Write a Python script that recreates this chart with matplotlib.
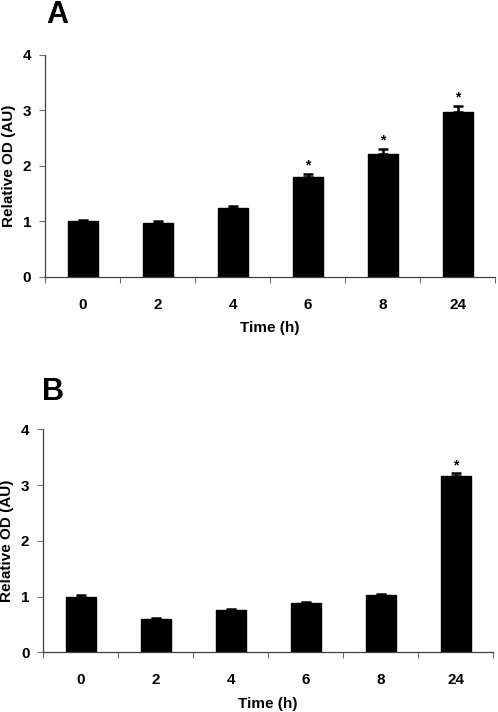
import numpy as np
import matplotlib
matplotlib.use("Agg")
import matplotlib.pyplot as plt

plt.rcParams['font.family'] = ['Liberation Sans', 'DejaVu Sans']
plt.rcParams['font.weight'] = 'bold'

times = ["0", "2", "4", "6", "8", "24"]

# panel A
values_a = [1.00, 0.97, 1.24, 1.80, 2.22, 2.97]
errors_a = [0.03, 0.03, 0.04, 0.06, 0.09, 0.11]
signif_a = [False, False, False, True, True, True]

# panel B
values_b = [1.00, 0.60, 0.75, 0.88, 1.02, 3.17]
errors_b = [0.02, 0.02, 0.02, 0.02, 0.02, 0.04]
signif_b = [False, False, False, False, False, True]

fig = plt.figure(figsize=(4.98, 7.12), dpi=100)


def draw_panel(rect, values, errors, signif, letter, letter_pos):
    ax = fig.add_axes(rect)
    x = np.arange(len(values))
    ax.bar(x, values, width=0.4, color="black", edgecolor="black")
    ax.errorbar(x, values, yerr=[np.zeros(len(errors)), errors], fmt="none",
                ecolor="black", elinewidth=1.8, capsize=3.5, capthick=1.8)
    for xi, v, e, s in zip(x, values, errors, signif):
        if s:
            ax.annotate("*", (xi, v + e), xytext=(0, 1), textcoords="offset points",
                        ha="center", va="bottom", fontsize=10, fontweight="bold")
    ax.set_xlim(-0.5, len(values) - 0.5)
    ax.set_ylim(0, 4)
    ax.set_yticks([0, 1, 2, 3, 4])
    ax.set_xticks(x)
    ax.set_xticklabels(times)
    ax.set_xticks(np.arange(len(values) + 1) - 0.5, minor=True)
    ax.tick_params(axis="x", which="major", length=0, pad=15, labelsize=11)
    ax.tick_params(axis="x", which="minor", length=4, color="#707070", width=0.8)
    ax.tick_params(axis="y", length=4, color="#707070", width=0.8, pad=6, labelsize=11)
    for sp in ["top", "right"]:
        ax.spines[sp].set_visible(False)
    for sp in ["left", "bottom"]:
        ax.spines[sp].set_color("#404040")
        ax.spines[sp].set_linewidth(0.9)
    ax.set_ylabel("Relative OD (AU)", fontsize=11, fontweight="bold")
    ax.yaxis.set_label_coords(-0.08, 0.5)
    ax.set_xlabel("Time (h)", fontsize=11, fontweight="bold")
    ax.xaxis.set_label_coords(0.5, -0.23)
    ax.xaxis.label.set_va("center")
    ax.yaxis.label.set_va("center")
    fig.text(letter_pos[0], letter_pos[1], letter, fontsize=22, fontweight="bold",
             ha="left", va="top")
    return ax


draw_panel([0.0904, 0.611, 0.904, 0.3118], values_a, errors_a, signif_a, "A", (0.093, 1.0))
draw_panel([0.087, 0.0839, 0.903, 0.3131], values_b, errors_b, signif_b, "B", (0.085, 0.47))

fig.savefig("out.png", dpi=100)
